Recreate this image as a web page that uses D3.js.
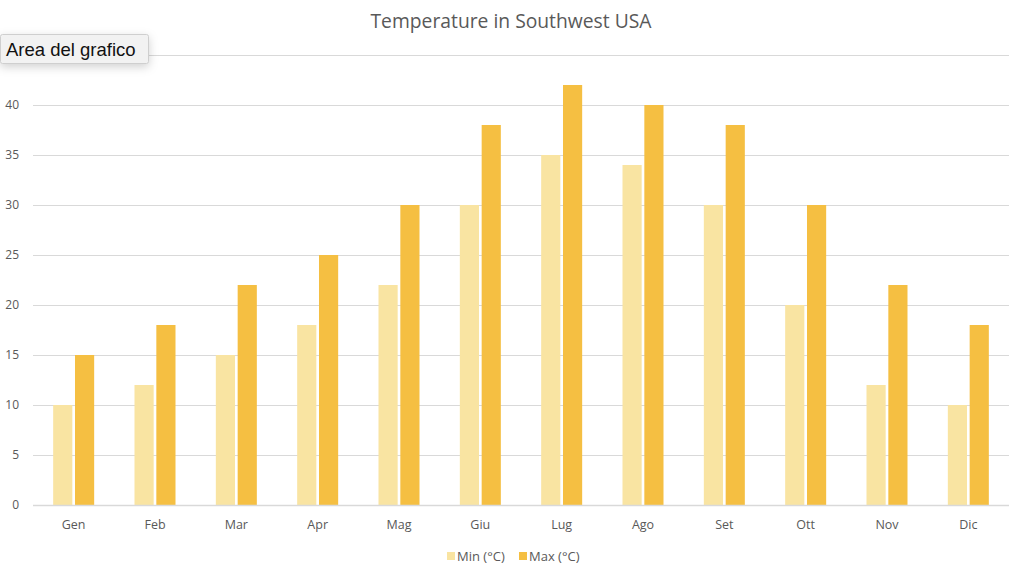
<!DOCTYPE html>
<html><head><meta charset="utf-8">
<script src="https://cdn.jsdelivr.net/npm/d3@7"></script>
<style>
html,body{margin:0;padding:0;background:#fff;}
svg{display:block;}
</style></head>
<body>
<script>
const categories = ["Gen","Feb","Mar","Apr","Mag","Giu","Lug","Ago","Set","Ott","Nov","Dic"];
const minValues = [10,12,15,18,22,30,35,34,30,20,12,10];
const maxValues = [15,18,22,25,30,38,42,40,38,30,22,18];
const seriesNames = ["Min (°C)","Max (°C)"];
const yTicks = [0,5,10,15,20,25,30,35,40,45];
const yTickLabels = [0,5,10,15,20,25,30,35,40];
const titleText = "Temperature in Southwest USA";
const tooltipText = "Area del grafico";

const W = 1024, H = 577;
const colors = ["#F9E4A2","#F5BF42"];
const font = "'Open Sans', 'Liberation Sans', sans-serif";

const svg = d3.select("body").append("svg").attr("width",W).attr("height",H);

const x = d3.scaleBand().domain(categories).range([33,1009]).paddingInner(0).paddingOuter(0);
const y = d3.scaleLinear().domain([0,45]).range([505,55]);
const inner = d3.scaleBand().domain([0,1]).range([x.bandwidth()/2-20.5, x.bandwidth()/2+20.5]).paddingInner(5/41);

// gridlines
svg.append("g").selectAll("line").data(yTicks).join("line")
  .attr("x1",33).attr("x2",1009)
  .attr("y1",d=>Math.round(y(d))+0.5).attr("y2",d=>Math.round(y(d))+0.5)
  .attr("stroke","#d9d9d9").attr("stroke-width",1);

// y axis labels
svg.append("g").selectAll("text").data(yTickLabels).join("text")
  .attr("x",19).attr("y",d=>y(d)+4)
  .attr("text-anchor","end").attr("font-family",font).attr("font-size",12)
  .attr("fill","#595959").text(d=>d);

// bars
const series = [minValues, maxValues];
series.forEach((vals,si)=>{
  svg.append("g").selectAll("rect").data(categories).join("rect")
    .attr("x",(c)=>x(c)+inner(si))
    .attr("width",inner.bandwidth())
    .attr("y",(c,i)=>y(vals[i]))
    .attr("height",(c,i)=>y(0)-y(vals[i]))
    .attr("fill",colors[si]);
});

// baseline
svg.append("line").attr("x1",33).attr("x2",1009).attr("y1",505.5).attr("y2",505.5)
  .attr("stroke","#d9d9d9").attr("stroke-width",1.5);

// x labels
svg.append("g").selectAll("text").data(categories).join("text")
  .attr("x",c=>x(c)+x.bandwidth()/2).attr("y",529)
  .attr("text-anchor","middle").attr("font-family",font).attr("font-size",12.5)
  .attr("fill","#595959").text(c=>c);

// title
svg.append("text").attr("x",511).attr("y",28).attr("text-anchor","middle")
  .attr("font-family",font).attr("font-size",19.3).attr("fill","#595959").text(titleText);

// legend
const leg = svg.append("g");
const legX = [447,519];
seriesNames.forEach((n,i)=>{
  leg.append("rect").attr("x",legX[i]).attr("y",552).attr("width",8).attr("height",8).attr("fill",colors[i]);
  leg.append("text").attr("x",legX[i]+10).attr("y",561).attr("font-family",font).attr("font-size",13)
    .attr("fill","#595959").text(n);
});

// tooltip
const defs = svg.append("defs");
const f = defs.append("filter").attr("id","sh").attr("x","-20%").attr("y","-50%").attr("width","140%").attr("height","220%");
f.append("feDropShadow").attr("dx",0).attr("dy",3).attr("stdDeviation",5).attr("flood-color","#000").attr("flood-opacity",0.18);
svg.append("rect").attr("x",0.5).attr("y",34.5).attr("width",148).attr("height",29)
  .attr("fill","#f2f2f2").attr("stroke","#cfcfcf").attr("rx",2).attr("filter","url(#sh)");
svg.append("text").attr("x",6).attr("y",56).attr("font-family","'Liberation Sans', Arial, sans-serif").attr("font-size",18.5)
  .attr("fill","#111").text(tooltipText);
</script>
</body></html>
